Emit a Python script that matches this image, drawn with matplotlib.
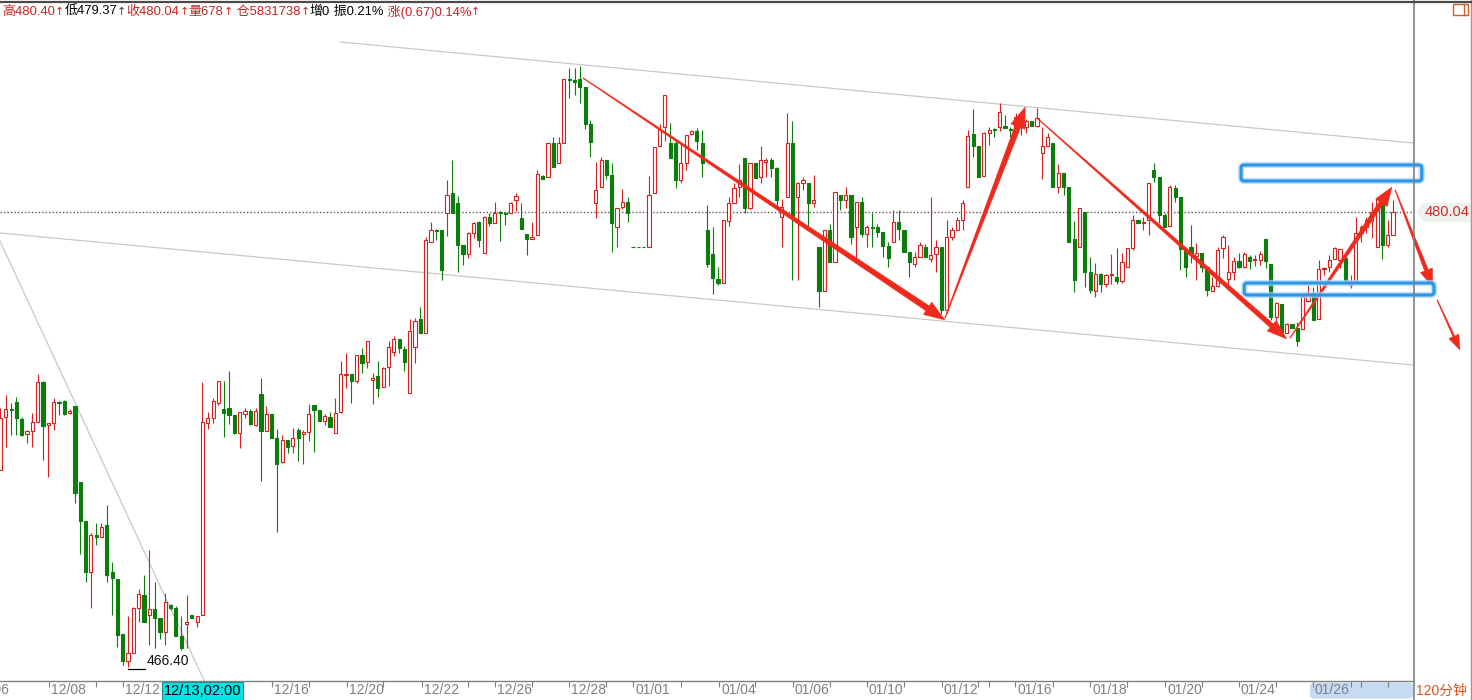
import numpy as np
import matplotlib
matplotlib.use("Agg")
import matplotlib.pyplot as plt
from matplotlib.patches import Polygon, Rectangle, FancyBboxPatch
from matplotlib.lines import Line2D
from matplotlib.transforms import IdentityTransform

# 120-minute bars, oldest first
opens = [
    472.31, 473.90, 474.14, 474.35, 473.84, 473.39, 473.48, 473.75, 474.95, 473.66,
    473.72, 474.35, 474.38, 474.02, 474.23, 471.95, 470.78, 469.25, 470.36, 470.30,
    470.66, 469.25, 469.04, 467.39, 466.58, 466.82, 468.17, 468.56, 467.96, 468.14,
    467.87, 467.45, 468.26, 468.17, 467.33, 467.69, 467.96, 467.75, 467.96, 473.72,
    473.87, 474.32, 474.14, 474.17, 473.96, 473.42, 473.99, 474.08, 473.66, 474.59,
    473.48, 473.99, 473.27, 472.55, 473.21, 473.03, 473.51, 473.39, 473.45, 474.26,
    474.11, 473.78, 473.90, 473.42, 474.05, 475.16, 475.19, 474.98, 475.76, 475.55,
    475.01, 475.13, 474.80, 475.40, 475.85, 476.24, 475.94, 474.62, 476.00, 476.84,
    476.42, 479.15, 479.51, 479.51, 480.02, 480.62, 480.32, 479.06, 478.79, 479.42,
    479.75, 478.82, 479.90, 479.72, 480.05, 480.02, 480.02, 480.41, 479.87, 479.39,
    479.24, 479.36, 481.13, 481.10, 482.12, 481.52, 482.12, 484.04, 484.01, 484.04,
    483.80, 482.69, 480.32, 480.80, 481.61, 481.16, 479.60, 480.20, 480.35, 479.00,
    479.00, 479.00, 479.00, 480.62, 482.03, 482.60, 482.12, 482.12, 481.01, 481.52,
    482.39, 482.48, 482.12, 479.51, 478.79, 478.04, 477.92, 479.78, 480.32, 480.80,
    481.67, 480.17, 481.52, 481.10, 481.55, 481.61, 481.37, 479.90, 480.50, 482.12,
    480.50, 480.92, 480.92, 480.32, 479.00, 477.68, 479.51, 478.55, 480.56, 480.41,
    480.56, 479.60, 480.35, 479.39, 479.60, 479.60, 479.45, 479.03, 479.15, 479.75,
    479.51, 478.85, 478.49, 478.70, 479.00, 478.64, 478.79, 479.00, 477.11, 479.30,
    479.51, 479.81, 480.80, 482.39, 482.03, 481.13, 482.42, 482.54, 482.60, 482.63,
    482.54, 482.60, 482.75, 482.60, 482.78, 482.63, 481.82, 482.03, 482.12, 480.80,
    481.22, 480.80, 479.24, 479.00, 480.05, 478.25, 477.68, 478.19, 477.89, 478.16,
    478.10, 477.98, 478.40, 478.97, 479.81, 479.72, 479.81, 481.31, 481.10, 479.96,
    479.63, 480.77, 480.50, 478.94, 479.00, 478.73, 478.82, 478.40, 477.68, 477.83,
    478.97, 478.04, 478.25, 478.58, 478.40, 478.70, 478.61, 478.61, 479.24, 478.49,
    476.90, 477.29, 476.42, 476.69, 476.57, 476.54, 477.38, 477.62, 476.84, 478.34,
    478.40, 478.64, 478.61, 478.67, 477.86, 477.95, 479.42, 479.60, 479.78, 479.00,
    480.35, 479.06, 479.37,
]
highs = [
    474.17, 474.56, 474.32, 474.50, 473.90, 473.51, 474.02, 475.19, 474.98, 473.72,
    474.47, 474.38, 474.41, 474.14, 474.23, 471.95, 470.78, 470.42, 470.72, 470.72,
    471.26, 469.55, 469.04, 467.39, 467.93, 468.20, 468.74, 469.16, 469.91, 468.95,
    467.87, 468.62, 468.29, 468.23, 467.93, 468.56, 467.96, 467.93, 474.95, 474.05,
    474.47, 474.98, 474.98, 475.28, 473.96, 474.05, 474.17, 474.14, 474.17, 475.07,
    474.23, 473.99, 473.54, 473.36, 473.21, 473.57, 473.57, 473.51, 474.29, 474.26,
    474.11, 473.99, 474.05, 474.47, 475.58, 475.82, 475.19, 475.76, 475.97, 476.18,
    475.22, 475.58, 475.40, 476.18, 476.33, 476.24, 476.03, 476.84, 476.87, 477.20,
    479.30, 479.75, 479.54, 479.51, 481.01, 481.61, 480.53, 479.06, 479.45, 479.75,
    479.78, 479.93, 480.02, 480.35, 480.08, 480.05, 480.35, 480.62, 480.32, 479.39,
    479.75, 481.31, 481.16, 482.12, 482.30, 482.30, 484.04, 484.37, 484.37, 484.43,
    483.80, 482.81, 481.55, 481.70, 481.61, 481.52, 480.17, 480.74, 480.50, 479.00,
    479.00, 479.00, 481.13, 482.00, 482.69, 483.56, 482.72, 482.18, 482.12, 482.36,
    482.51, 482.57, 482.51, 480.26, 479.60, 478.40, 479.81, 480.50, 480.92, 481.49,
    481.67, 481.52, 481.52, 482.03, 481.67, 481.67, 481.40, 480.44, 483.02, 482.78,
    480.95, 481.10, 480.92, 481.16, 479.00, 479.51, 479.69, 480.65, 480.56, 480.80,
    480.56, 480.35, 480.50, 479.66, 480.02, 479.69, 479.45, 479.15, 480.11, 480.11,
    479.51, 478.85, 478.85, 479.15, 479.09, 480.50, 479.21, 479.00, 479.81, 479.60,
    479.90, 480.41, 482.51, 483.14, 482.03, 482.45, 482.60, 482.57, 483.32, 482.96,
    482.60, 483.02, 482.90, 482.84, 482.78, 483.17, 482.60, 482.42, 482.12, 481.49,
    481.22, 480.80, 479.78, 480.17, 480.05, 478.70, 478.52, 478.22, 478.19, 478.79,
    478.97, 478.82, 478.97, 479.96, 479.81, 479.90, 480.92, 481.52, 481.10, 480.02,
    480.86, 480.86, 480.50, 479.00, 479.66, 479.12, 478.82, 478.40, 478.10, 479.00,
    479.36, 479.06, 478.70, 478.82, 478.85, 478.76, 478.76, 478.88, 479.24, 478.49,
    477.35, 477.29, 476.72, 476.69, 476.75, 477.53, 477.86, 477.80, 478.61, 478.40,
    478.76, 479.00, 478.94, 478.79, 478.16, 479.90, 479.66, 479.90, 480.35, 480.44,
    480.41, 479.81, 480.40,
]
lows = [
    472.31, 473.00, 473.36, 473.36, 473.33, 473.12, 473.00, 473.75, 472.61, 472.10,
    473.51, 473.96, 473.96, 473.99, 471.32, 469.79, 468.95, 468.17, 470.06, 470.30,
    468.95, 467.96, 467.00, 466.46, 466.40, 466.82, 467.75, 467.75, 467.06, 466.97,
    467.24, 467.06, 468.11, 467.33, 466.91, 466.97, 467.87, 467.60, 467.96, 473.54,
    473.72, 474.26, 473.30, 473.69, 473.39, 472.97, 473.87, 473.66, 473.63, 471.98,
    473.48, 473.27, 470.45, 472.52, 472.82, 472.82, 472.58, 472.49, 473.18, 472.85,
    473.78, 473.66, 473.60, 473.42, 474.02, 474.77, 474.32, 474.92, 475.22, 475.37,
    474.29, 474.50, 474.80, 474.83, 475.73, 475.82, 475.28, 474.62, 475.52, 476.42,
    476.42, 479.15, 479.21, 478.01, 479.33, 480.02, 478.25, 478.46, 478.67, 479.27,
    479.00, 478.82, 479.63, 479.72, 479.18, 479.66, 480.02, 480.08, 479.54, 478.76,
    479.24, 479.36, 481.04, 481.10, 481.40, 481.52, 482.12, 483.47, 483.56, 483.32,
    482.54, 481.70, 479.87, 480.80, 481.04, 478.85, 479.00, 480.14, 479.75, 479.00,
    479.00, 479.00, 479.00, 480.62, 482.00, 482.18, 481.67, 480.77, 480.92, 481.31,
    482.36, 481.91, 481.10, 478.40, 477.59, 477.86, 477.92, 479.63, 480.32, 480.50,
    480.02, 480.14, 481.07, 480.92, 481.10, 481.10, 480.17, 479.00, 480.50, 478.01,
    478.01, 480.71, 479.51, 480.20, 477.20, 477.68, 478.55, 478.55, 480.11, 480.17,
    479.09, 478.61, 479.30, 479.00, 479.00, 479.30, 478.70, 478.40, 479.15, 479.21,
    478.85, 478.10, 478.40, 478.70, 478.70, 478.55, 478.25, 476.99, 477.02, 479.21,
    479.51, 479.51, 480.80, 481.70, 481.10, 481.13, 482.06, 482.30, 482.48, 482.57,
    482.30, 482.42, 482.36, 482.42, 482.63, 482.60, 481.04, 482.03, 480.80, 480.62,
    480.56, 479.15, 477.65, 479.00, 477.80, 477.62, 477.50, 477.65, 477.80, 477.89,
    477.89, 477.92, 478.40, 478.91, 479.72, 479.51, 479.36, 480.95, 479.72, 479.60,
    479.63, 480.35, 478.31, 478.10, 478.52, 478.01, 478.25, 477.53, 477.68, 477.80,
    478.67, 477.83, 478.01, 478.37, 478.37, 478.34, 478.43, 478.46, 478.37, 476.81,
    476.60, 476.42, 476.42, 476.57, 476.03, 476.54, 477.35, 476.81, 476.84, 478.16,
    478.25, 478.64, 478.37, 478.01, 477.77, 477.95, 479.15, 479.42, 479.27, 479.00,
    478.64, 479.00, 479.37,
]
closes = [
    473.87, 474.14, 474.11, 473.87, 473.36, 473.48, 473.75, 474.95, 473.63, 473.72,
    474.35, 474.32, 473.99, 474.08, 471.62, 470.78, 469.25, 470.36, 470.30, 470.60,
    469.16, 469.07, 467.36, 466.58, 466.82, 468.17, 468.59, 467.75, 468.14, 467.87,
    467.45, 468.35, 468.17, 467.33, 466.97, 467.75, 467.87, 467.93, 473.75, 473.87,
    474.38, 474.98, 474.02, 473.96, 473.42, 474.05, 474.08, 473.69, 474.08, 473.48,
    473.99, 473.27, 472.49, 473.21, 473.00, 473.27, 473.27, 473.45, 473.99, 474.11,
    473.78, 473.93, 473.60, 474.02, 475.19, 475.19, 474.98, 475.76, 475.52, 476.18,
    475.07, 474.77, 475.37, 476.00, 476.24, 475.97, 475.55, 476.48, 476.78, 476.42,
    479.21, 479.51, 479.48, 478.31, 480.56, 480.02, 479.06, 478.79, 479.42, 479.72,
    479.21, 479.90, 479.72, 480.02, 480.02, 479.99, 480.32, 480.53, 479.54, 479.24,
    479.30, 481.19, 481.04, 482.12, 481.40, 482.12, 484.04, 484.01, 483.95, 483.80,
    482.69, 482.15, 480.71, 481.61, 481.16, 479.72, 480.17, 480.35, 480.02, 479.00,
    479.00, 479.00, 480.56, 482.00, 482.54, 483.56, 481.67, 481.01, 481.52, 482.36,
    482.48, 482.18, 481.52, 478.49, 478.07, 477.92, 479.81, 480.32, 480.77, 481.01,
    480.17, 481.52, 481.07, 481.61, 481.61, 481.37, 480.41, 480.20, 482.12, 479.87,
    480.92, 481.01, 480.32, 480.41, 477.68, 479.51, 478.55, 480.65, 480.41, 480.56,
    479.30, 480.35, 479.39, 479.60, 479.57, 479.45, 479.03, 478.67, 479.75, 479.54,
    478.85, 478.55, 478.70, 479.06, 478.70, 478.76, 479.00, 477.11, 479.30, 479.51,
    479.81, 480.32, 482.33, 482.03, 481.10, 482.42, 482.51, 482.51, 483.05, 482.57,
    482.51, 482.90, 482.66, 482.78, 482.63, 482.87, 482.03, 482.30, 480.80, 481.22,
    480.80, 479.15, 478.01, 480.17, 478.25, 477.71, 478.19, 477.89, 478.16, 478.19,
    477.98, 478.55, 478.97, 479.81, 479.72, 479.75, 480.92, 481.10, 479.96, 479.60,
    480.80, 480.50, 478.94, 478.40, 478.82, 478.82, 478.40, 477.71, 477.83, 478.91,
    479.30, 478.25, 478.58, 478.40, 478.79, 478.58, 478.64, 478.79, 478.58, 476.90,
    477.32, 476.45, 476.69, 476.57, 476.18, 477.53, 477.62, 476.81, 478.34, 478.37,
    478.61, 478.97, 478.94, 478.01, 477.92, 479.42, 479.60, 479.81, 480.05, 480.44,
    479.06, 479.36, 480.04,
]
assert len(opens) == len(highs) == len(lows) == len(closes), (len(opens), len(highs), len(lows), len(closes))

# date labels on the bar axis (bar index where the day starts)
date_labels = ["12/06", "12/08", "12/12", "12/16", "12/20", "12/22", "12/26", "12/28", "01/01",
               "01/04", "01/06", "01/10", "01/12", "01/16", "01/18", "01/20", "01/24", "01/26"]
date_label_idx = [-5.4, 9.1, 23.0, 51.1, 65.2, 79.3, 93.0, 107.0, 119.0,
                  135.2, 149.1, 163.0, 177.1, 190.9, 205.0, 219.1, 233.0, 246.9]
day_tick_idx = [18, 30.6, 58, 72, 88, 100, 114, 128, 142, 156, 170, 184, 186,
                198, 212, 226, 240, 254, 256, 261]
cursor_idx = 38
cursor_label = "12/13,02:00"

# drawn objects: trend lines (bar index, price)
trend_lines = [((63.9, 485.15), (265.75, 482.12)),
               ((-0.1, 479.42), (265.75, 475.46)),
               ((-0.1, 479.18), (40.0, 465.41))]
# arrows: start, end, end shaft width, head width, head length (px)
arrows = [((109.6, 484.07), (177.7, 476.81), 6, 15, 21),
          ((177.7, 476.87), (192.8, 483.20), 6, 15, 21),
          ((195.0, 482.87), (242.0, 476.24), 5, 14, 20),
          ((242.6, 476.27), (261.8, 480.80), 5, 14, 19),
          ((262.4, 480.71), (269.5, 477.80), 4, 13, 18),
          ((270.3, 477.41), (274.6, 475.91), 2, 11, 15)]
boxes = [((233.4, 480.98), (267.4, 481.46)),
         ((234.0, 477.56), (269.7, 477.92))]

W, H = 1472, 700
RED = "#d42020"
GREEN = "#0b7d0b"
ARROW = "#ee2a1c"
FAM = ["Liberation Sans", "Noto Sans CJK SC", "DejaVu Sans"]

fig = plt.figure(figsize=(W / 100, H / 100), dpi=100)
ax = fig.add_axes([0, 19 / H, 1413 / W, 678 / H])
ax.set_xlim(-0.094, 265.75)
ax.set_ylim(465.98, 486.32)

o = np.array(opens)
h = np.array(highs)
l = np.array(lows)
c = np.array(closes)
x = np.arange(len(o))
up = c > o

ax.vlines(x, l, h, colors=np.where(up, RED, GREEN), lw=0.8, zorder=3)
ax.bar(x[up], (c - o)[up], bottom=o[up], width=0.6, facecolor="white",
       edgecolor=RED, lw=0.8, zorder=4)
ax.bar(x[~up], (o - c)[~up], bottom=c[~up], width=0.6, facecolor=GREEN,
       edgecolor=GREEN, lw=0.8, zorder=4)

for (x0, y0), (x1, y1) in trend_lines:
    ax.plot([x0, x1], [y0, y1], color="#c8c8c8", lw=0.9, zorder=2)

# last price line
ax.axhline(closes[-1], color="#555555", lw=1.0, ls=(0, (1, 1.5)), zorder=2)

# lowest low marker
i_low = int(np.argmin(l))
ax.plot([i_low, i_low + 3.2], [l[i_low] - 0.06, l[i_low] - 0.06], color="black", lw=0.9, zorder=5)
ax.annotate(f"{l[i_low]:.2f}", xy=(i_low + 3.4, l[i_low] - 0.06), xytext=(0, 1),
            textcoords="offset pixels", ha="left", va="bottom", fontsize=10,
            family=FAM, color="#111111", zorder=5)


def tapered_arrow(start, end, w_end, head_w, head_len):
    a = ax.transData.transform(start)
    b = ax.transData.transform(end)
    d = b - a
    u = d / np.hypot(*d)
    n = np.array([-u[1], u[0]])
    base = b - u * head_len
    pts = [a + n * 0.4, base + n * w_end / 2, base + n * head_w / 2, b,
           base - n * head_w / 2, base - n * w_end / 2, a - n * 0.4]
    ax.add_patch(Polygon(pts, closed=True, transform=IdentityTransform(), fc=ARROW,
                         ec=ARROW, lw=0.3, zorder=8, clip_on=False))


for s, e, we, hw, hl in arrows:
    tapered_arrow(s, e, we, hw, hl)

for (bx0, by0), (bx1, by1) in boxes:
    for lw, col, alpha in [(4.5, "#a8d4f7", 0.7), (2.2, "#2a96e8", 1.0)]:
        ax.add_patch(FancyBboxPatch((bx0, by0), bx1 - bx0, by1 - by0,
                                    boxstyle="round,pad=0,rounding_size=0.6", fill=False,
                                    ec=col, lw=lw, alpha=alpha, zorder=9, clip_on=False,
                                    mutation_aspect=0.15))

# axes styling
for side in ["left", "top", "right"]:
    ax.spines[side].set_visible(False)
ax.spines["bottom"].set_color("#808080")
ax.spines["bottom"].set_linewidth(1.0)
ax.set_yticks([])
ax.set_xticks([t for t in date_label_idx if t > 0] + day_tick_idx)
ax.tick_params(axis="x", direction="out", length=4, width=0.8, color="#808080",
               labelbottom=False)

for idx, lab in zip(date_label_idx, date_labels):
    ax.annotate(lab, xy=(idx, 0), xycoords=("data", "axes fraction"), xytext=(2, -2),
                textcoords="offset pixels", ha="left", va="top", fontsize=10,
                family=FAM, color="#808080", annotation_clip=False)

ax.annotate(cursor_label, xy=(cursor_idx, 0), xycoords=("data", "axes fraction"),
            xytext=(0, -3), textcoords="offset pixels", ha="center", va="top",
            fontsize=10.5, family=FAM, color="black", annotation_clip=False, zorder=10,
            bbox=dict(boxstyle="square,pad=0.12", fc="#00e5e5", ec="#2f8a8a", lw=0.8))

# current view highlight under the date axis
fig.add_artist(FancyBboxPatch((1310 / W, 0.002), 103 / W, 16 / H,
                              boxstyle="round,pad=0,rounding_size=0.004",
                              transform=fig.transFigure, fc="#c6daf2", ec="none", zorder=-1))

# frame lines
fig.add_artist(Line2D([1413.5 / W] * 2, [0, 1], transform=fig.transFigure, color="#808080", lw=1.2))
fig.add_artist(Line2D([1471.3 / W] * 2, [0, 1], transform=fig.transFigure, color="#999999", lw=1.0))
fig.add_artist(Line2D([0, 1], [1 - 1.5 / H] * 2, transform=fig.transFigure, color="#4a4a4a", lw=1.6))

# last price tag
yd = ax.transData.transform((0, closes[-1]))[1]
fig.add_artist(Polygon([(1416, yd), (1424, yd + 9.5), (1471, yd + 9.5), (1471, yd - 9.5),
                        (1424, yd - 9.5)], closed=True, transform=IdentityTransform(),
                       fc="#edf2ec", ec="none"))
fig.text(1425 / W, yd / H, f"{closes[-1]:.2f}", va="center", ha="left", fontsize=10.5,
         family=FAM, color="#cc2b2b")

fig.text(1416 / W, 9 / H, "120分钟", va="center", ha="left", fontsize=10,
         family=FAM, color="#d9531e")

# small icon top right
fig.add_artist(Rectangle((1453 / W, 1 - 15 / H), 15 / W, 11 / H, transform=fig.transFigure,
                         fill=False, ec="#c8642a", lw=1.0))
fig.add_artist(Line2D([1464 / W] * 2, [1 - 15 / H, 1 - 4 / H], transform=fig.transFigure,
                      color="#c8642a", lw=1.0))

# header line, arrows drawn in DejaVu so they come out full height
hdr_red = "#cc2222"
pieces = [("高480.40↑", hdr_red), ("低479.37", "black"), ("↑", "#2b3f6e"),
          ("收480.04↑", hdr_red), ("量678↑", hdr_red), (" 仓5831738↑", hdr_red),
          ("增0", "black"), (" 振0.21%", "black"), (" 涨(0.67)0.14%↑", hdr_red)]
runs = []
for txt, col in pieces:
    parts = txt.split("↑")
    for k, part in enumerate(parts):
        if part:
            runs.append((part, col, FAM, 9.4))
        if k < len(parts) - 1:
            runs.append(("↑", col, ["DejaVu Sans"], 8.0))

prev = None
for txt, col, fam, fs in runs:
    if prev is None:
        prev = ax.annotate(txt, xy=(2, H - 12), xycoords="figure pixels", va="center",
                           ha="left", fontsize=fs, family=fam, color=col)
    else:
        prev = ax.annotate(txt, xy=(1, 0.5), xycoords=prev, va="center", ha="left",
                           fontsize=fs, family=fam, color=col)

fig.savefig("out.png", dpi=100)
